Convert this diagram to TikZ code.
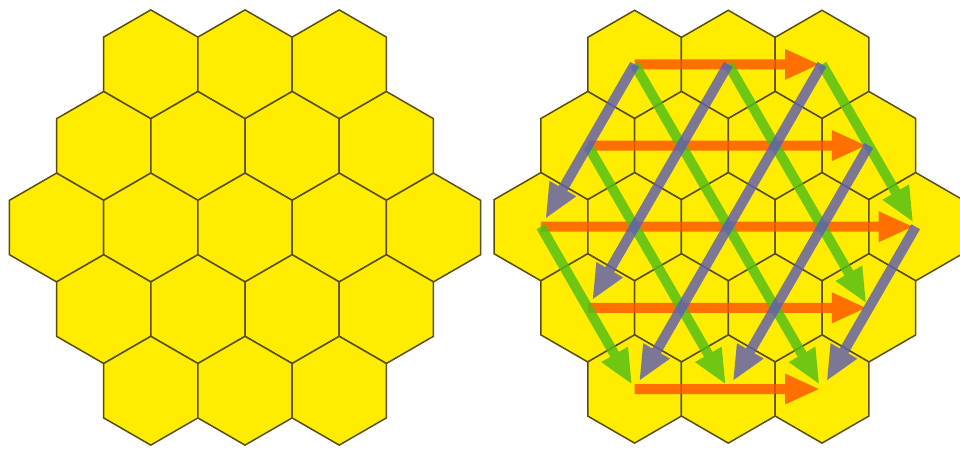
\documentclass[tikz,border=0pt]{standalone}
\usetikzlibrary{arrows.meta}
\definecolor{hexfill}{RGB}{255,236,0}
\definecolor{hexedge}{RGB}{90,78,8}
\definecolor{orangeA}{RGB}{255,85,0}
\definecolor{greenA}{RGB}{80,192,24}
\definecolor{greyA}{RGB}{96,94,183}
\tikzset{
  hexcell/.style={fill=hexfill, draw=hexedge, line width=1.5pt, line join=miter},
  arrowbase/.style={line width=10pt, -{Triangle[length=35pt,width=28pt]}},
  orangearrow/.style={arrowbase, draw=orangeA, fill=orangeA, shorten >=2pt},
  greenarrow/.style={arrowbase, draw=greenA, fill=greenA, shorten >=5pt},
  greyarrow/.style={arrowbase, draw=greyA, fill=greyA, shorten >=9pt},
  arrowgroup/.style={transparency group, opacity=0.82}
}
\newcommand\hexgrid[4]{%
  \foreach \r/\n in {0/3,1/4,2/5,3/4,4/3}{%
    \pgfmathtruncatemacro\last{\n-1}%
    \foreach \c in {0,...,\last}{%
      \pgfmathsetmacro\hx{#1+(\c-(\n-1)/2)*sqrt(3)*#3}%
      \pgfmathsetmacro\hy{#2+(\r-2)*1.5*#3}%
      \coordinate (#4-\r-\c) at (\hx,\hy);
      \draw[hexcell] (#4-\r-\c) +(90:#3) -- +(150:#3) -- +(210:#3) -- +(270:#3) -- +(330:#3) -- +(30:#3) -- cycle;
    }%
  }%
}
\begin{document}
\begin{tikzpicture}[x=1pt,y=-1pt]
\useasboundingbox (0,0) rectangle (960,452);
\hexgrid{245}{227.5}{54.4}{A}
\hexgrid{728.3}{226.7}{54.1}{B}
% orange: along rows
\begin{scope}[arrowgroup]
  \draw[orangearrow] (B-0-0) -- (B-0-2);
  \draw[orangearrow] (B-1-0) -- (B-1-3);
  \draw[orangearrow] (B-2-0) -- (B-2-4);
  \draw[orangearrow] (B-3-0) -- (B-3-3);
  \draw[orangearrow] (B-4-0) -- (B-4-2);
\end{scope}
% green: down-right diagonals
\begin{scope}[arrowgroup]
  \draw[greenarrow] (B-2-0) -- (B-4-0);
  \draw[greenarrow] (B-1-0) -- (B-4-1);
  \draw[greenarrow] (B-0-0) -- (B-4-2);
  \draw[greenarrow] (B-0-1) -- (B-3-3);
  \draw[greenarrow] (B-0-2) -- (B-2-4);
\end{scope}
% grey: down-left diagonals
\begin{scope}[arrowgroup]
  \draw[greyarrow] (B-0-0) -- (B-2-0);
  \draw[greyarrow] (B-0-1) -- (B-3-0);
  \draw[greyarrow] (B-0-2) -- (B-4-0);
  \draw[greyarrow] (B-1-3) -- (B-4-1);
  \draw[greyarrow] (B-2-4) -- (B-4-2);
\end{scope}
\end{tikzpicture}
\end{document}
